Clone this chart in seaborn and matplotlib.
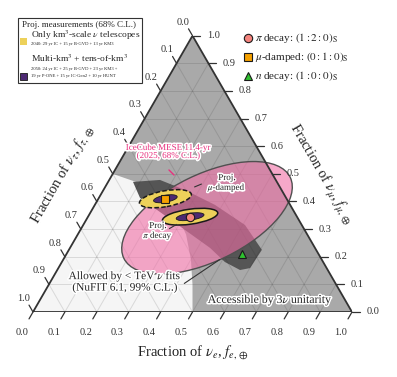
import numpy as np
import matplotlib
matplotlib.use("Agg")
import matplotlib.pyplot as plt
import seaborn as sns
from matplotlib.patches import Polygon, Rectangle, Ellipse
import matplotlib.patheffects as pe

# ---------------- data (flavor fractions fe, fmu; ftau = 1 - fe - fmu) ----------------
ticks = [0.0, 0.1, 0.2, 0.3, 0.4, 0.5, 0.6, 0.7, 0.8, 0.9, 1.0]
tick_labels = ["0.0", "0.1", "0.2", "0.3", "0.4", "0.5", "0.6", "0.7", "0.8", "0.9", "1.0"]

# boundary of the region NOT accessible with 3nu unitarity (lower-left)
excl_fe = [0.00, 0.00, 0.50, 0.45, 0.40, 0.34, 0.26, 0.18, 0.09]
excl_fmu = [0.50, 0.00, 0.00, 0.10, 0.19, 0.28, 0.37, 0.43, 0.47]

# NuFIT 99% band of Earth flavor composition
band_fe = [0.078, 0.159, 0.255, 0.376, 0.507, 0.605, 0.601, 0.573, 0.511, 0.439, 0.328, 0.217, 0.129]
band_fmu = [0.471, 0.478, 0.442, 0.388, 0.315, 0.225, 0.159, 0.152, 0.181, 0.232, 0.297, 0.362, 0.413]

# benchmark source compositions at Earth
bench_names = ["pi", "mu", "n"]
bench_fe = [0.32, 0.21, 0.55]
bench_fmu = [0.345, 0.41, 0.21]

# IceCube MESE 68% contour (ellipse: centre fe, fmu; axes; tilt)
mese_centre = (0.375, 0.341)
mese_axes = (0.58, 0.272)
mese_tilt = 26

# projected 2040 / 2050 contours around pi and mu benchmarks
proj40_axes = {"pi": (0.175, 0.047), "mu": (0.165, 0.05)}
proj50_axes = {"pi": (0.088, 0.022), "mu": (0.075, 0.022)}
proj_tilt = {"pi": 8, "mu": 10}

# ---------------- figure ----------------
sns.set_theme(style="white")
plt.rcParams['font.family'] = ['Liberation Serif', 'DejaVu Serif']
plt.rcParams['mathtext.fontset'] = 'stix'

W, H = 397, 377
fig = plt.figure(figsize=(W / 100, H / 100), dpi=100)
BLx, BLy, side = 33, 312, 319
S3 = np.sqrt(3) / 2
ax = fig.add_axes([BLx / W, (H - BLy) / H, side / W, side * S3 / H])
ax.set_xlim(0, 1)
ax.set_ylim(0, S3)
ax.axis('off')


def tern(fe, fmu):
    fe = np.asarray(fe, float)
    fmu = np.asarray(fmu, float)
    return fe + fmu / 2, fmu * S3


def pts(fe, fmu):
    x, y = tern(fe, fmu)
    return np.column_stack([x, y])


tri = pts([0, 1, 0], [0, 0, 1])
# background
ax.add_patch(Polygon(tri, closed=True, fc='#f5f5f5', ec='none', zorder=0))
# accessible (gray) = triangle minus excluded
ax.add_patch(Polygon(tri, closed=True, fc='#a9a9a9', ec='none', zorder=1))
ax.add_patch(Polygon(pts(excl_fe, excl_fmu), closed=True, fc='#f5f5f5', ec='none', zorder=1.1))
# NuFIT band
ax.add_patch(Polygon(pts(band_fe, band_fmu), closed=True, fc='#555555', ec='none', zorder=1.2,
                     joinstyle='round'))

# grid
for v in ticks[1:-1]:
    ax.plot(*tern([v, v], [0, 1 - v]), color='k', alpha=0.13, lw=0.7, zorder=1.5)
    ax.plot(*tern([0, 1 - v], [v, v]), color='k', alpha=0.13, lw=0.7, zorder=1.5)
    ax.plot(*tern([0, 1 - v], [1 - v, 0]), color='k', alpha=0.13, lw=0.7, zorder=1.5)

# MESE contour
cx, cy = tern(*mese_centre)
ax.add_patch(Ellipse((cx, cy), mese_axes[0], mese_axes[1], angle=mese_tilt,
                     fc='#f06fa6', alpha=0.6, ec='none', zorder=2))
ax.add_patch(Ellipse((cx, cy), mese_axes[0], mese_axes[1], angle=mese_tilt,
                     fc='none', ec='#505050', lw=1.0, zorder=2.1))

# projections
for i, nm in enumerate(bench_names[:2]):
    x0, y0 = tern(bench_fe[i], bench_fmu[i])
    ls = '-' if nm == 'pi' else (0, (3, 1.5))
    ax.add_patch(Ellipse((x0, y0), *proj40_axes[nm], angle=proj_tilt[nm],
                         fc='#edd15a', ec='k', lw=1.1, ls=ls, zorder=3))
    ax.add_patch(Ellipse((x0, y0), *proj50_axes[nm], angle=proj_tilt[nm],
                         fc='#4d2a73', ec='k', lw=0.6, zorder=3.1))

# benchmark markers
mstyle = {"pi": dict(marker='o', color='#f4837d', ms=6),
          "mu": dict(marker='s', color='#f5a000', ms=5.5),
          "n": dict(marker='^', color='#2fc12f', ms=6)}
for i, nm in enumerate(bench_names):
    x0, y0 = tern(bench_fe[i], bench_fmu[i])
    st = mstyle[nm]
    ax.plot([x0], [y0], ls='none', marker=st['marker'], mfc=st['color'], mec='k',
            mew=0.8, ms=st['ms'], zorder=5)

# outline
ax.add_patch(Polygon(tri, closed=True, fc='none', ec='#333333', lw=1.3, zorder=6,
                     joinstyle='miter'))

# ticks
tl = 0.025
tfs = 7.5
for v, lab in zip(ticks, tick_labels):
    x, y = tern(v, 0)
    ax.plot([x, x - tl * 0.5], [y, y - tl * S3], color='#333333', lw=0.9, clip_on=False, zorder=6)
    ax.text(x - 0.035, y - 0.064, lab, ha='center', va='center', fontsize=tfs, color='#333333')
    x, y = tern(1 - v, v)
    ax.plot([x, x + tl], [y, y], color='#333333', lw=0.9, clip_on=False, zorder=6)
    ax.text(x + 0.065, y, lab, ha='center', va='center', fontsize=tfs, color='#333333')
    x, y = tern(0, 1 - v)
    ax.plot([x, x - tl * 0.5], [y, y + tl * S3], color='#333333', lw=0.9, clip_on=False, zorder=6)
    ax.text(x - 0.03, y + 0.043, lab, ha='center', va='center', fontsize=tfs, color='#333333')

# axis labels
ax.text(0.5, -0.125, r"Fraction of $\nu_e$, $f_{e,\oplus}$", ha='center', va='center',
        fontsize=10.5, color='#222222')
ax.text(0.09, 0.43, r"Fraction of $\nu_\tau$, $f_{\tau,\oplus}$", ha='center', va='center',
        fontsize=10.5, rotation=60, color='#222222')
ax.text(0.903, 0.43, r"Fraction of $\nu_\mu$, $f_{\mu,\oplus}$", ha='center', va='center',
        fontsize=10.5, rotation=-60, color='#222222')

# annotations
wstroke = [pe.withStroke(linewidth=2.2, foreground='white')]


def P(px, py):
    return ((px - BLx) / side, (BLy - py) / side)


ax.text(*P(168, 152), "IceCube MESE 11.4-yr\n(2025, 68% C.L.)", ha='center', va='center',
        fontsize=6.5, color='#e8307e', linespacing=1.0, path_effects=wstroke, zorder=7)
ax.annotate("", xy=P(176, 177), xytext=P(167, 168),
            arrowprops=dict(arrowstyle='-', color='#e8307e', lw=1.0), zorder=7)
ax.text(*P(227, 184), "Proj.\n$\\mu$-damped", ha='center', va='center', fontsize=6.5,
        linespacing=1.0, path_effects=wstroke, zorder=7)
ax.annotate("", xy=P(192, 188), xytext=P(204, 183),
            arrowprops=dict(arrowstyle='-', color='#333333', lw=0.8), zorder=7)
ax.text(*P(158, 232), "Proj.\n$\\pi$ decay", ha='center', va='center', fontsize=6.5,
        linespacing=1.0, path_effects=wstroke, zorder=7)
ax.annotate("", xy=P(179, 223), xytext=P(167, 230),
            arrowprops=dict(arrowstyle='-', color='#333333', lw=0.8), zorder=7)
ax.text(*P(125, 281), "Allowed by < TeV $\\nu$ fits\n(NuFIT 6.1, 99% C.L.)", ha='center',
        va='center', fontsize=8.2, linespacing=1.0, path_effects=wstroke, zorder=7)
ax.annotate("", xy=P(222, 258), xytext=P(182, 285),
            arrowprops=dict(arrowstyle='-', color='#333333', lw=0.8), zorder=7)
ax.text(*P(270, 300), "Accessible by 3$\\nu$ unitarity", ha='center', va='center',
        fontsize=8.5, path_effects=wstroke, zorder=7)

# top-right legend
lfs = 8
leg_y = [38, 57, 76]
leg_txt = [r"$\pi$ decay: $(1:2:0)_\mathrm{S}$", r"$\mu$-damped: $(0:1:0)_\mathrm{S}$",
           r"$n$ decay: $(1:0:0)_\mathrm{S}$"]
for nm, yy, t in zip(bench_names, leg_y, leg_txt):
    st = mstyle[nm]
    fig.lines.append(plt.Line2D([248 / W], [1 - yy / H], transform=fig.transFigure,
                                ls='none', marker=st['marker'], mfc=st['color'], mec='k',
                                mew=0.8, ms=st['ms']))
    fig.text(255 / W, 1 - yy / H, t, ha='left', va='center', fontsize=lfs)

# top-left legend box
fig.patches.append(Rectangle((18 / W, 1 - 83 / H), 124 / W, 65 / H, transform=fig.transFigure,
                             fc='white', ec='#333333', lw=0.8))
fig.text(22 / W, 1 - 25 / H, "Proj. measurements (68% C.L.)", fontsize=6.5, va='center')
fig.patches.append(Rectangle((20 / W, 1 - 45 / H), 7 / W, 7 / H, transform=fig.transFigure,
                             fc='#edd15a', ec='none'))
fig.text(31 / W, 1 - 35 / H, r"Only km$^3$-scale $\nu$ telescopes", fontsize=6.8, va='center')
fig.text(31 / W, 1 - 44 / H, "2040: 29 yr IC + 15 yr B-GVD + 13 yr KM3", fontsize=3.3, va='center')
fig.patches.append(Rectangle((20 / W, 1 - 80 / H), 7 / W, 7 / H, transform=fig.transFigure,
                             fc='#4d2a73', ec='k', lw=0.6))
fig.text(31 / W, 1 - 58 / H, r"Multi-km$^3$ + tens-of-km$^3$", fontsize=6.8, va='center')
fig.text(31 / W, 1 - 69 / H, "2050: 24 yr IC + 25 yr B-GVD + 23 yr KM3 +", fontsize=3.3, va='center')
fig.text(31 / W, 1 - 76 / H, "19 yr P-ONE + 15 yr IC-Gen2 + 10 yr HUNT", fontsize=3.3, va='center')

fig.savefig("out.png", dpi=100, facecolor='white')
